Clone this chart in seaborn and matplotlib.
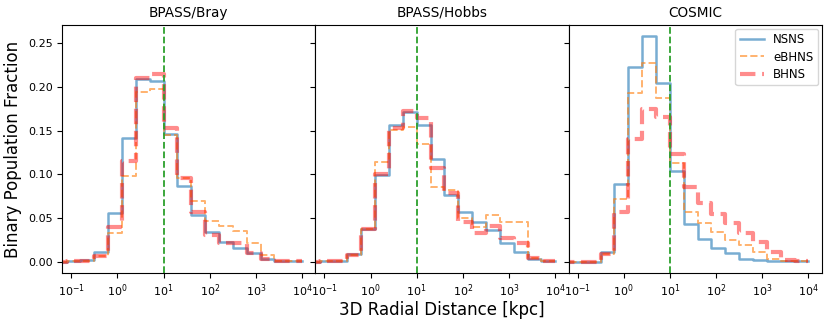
import numpy as np
import pandas as pd
import matplotlib
matplotlib.use("Agg")
import matplotlib.pyplot as plt
import seaborn as sns

# log10 bin edges (kpc), 0.3 dex bins
log_edges = [-1.4, -1.1, -0.8, -0.5, -0.2, 0.1, 0.4, 0.7, 1.0, 1.3,
             1.6, 1.9, 2.2, 2.5, 2.8, 3.1, 3.4, 3.7, 4.0]

models = ["BPASS/Bray", "BPASS/Hobbs", "COSMIC"]
populations = ["NSNS", "eBHNS", "BHNS"]

# fraction per bin
bray_nsns = [0.0, 0.0005, 0.0015, 0.0115, 0.056, 0.142, 0.209, 0.207, 0.146,
             0.087, 0.054, 0.034, 0.023, 0.0155, 0.010, 0.003, 0.001, 0.0005]
bray_ebhns = [0.0, 0.0005, 0.001, 0.0065, 0.0325, 0.098, 0.194, 0.198, 0.145,
              0.096, 0.070, 0.047, 0.041, 0.035, 0.021, 0.008, 0.001, 0.0005]
bray_bhns = [0.0, 0.0005, 0.001, 0.0065, 0.040, 0.115, 0.210, 0.215, 0.153,
             0.096, 0.057, 0.031, 0.022, 0.021, 0.010, 0.003, 0.001, 0.0005]

hobbs_nsns = [0.0, 0.0005, 0.001, 0.009, 0.038, 0.099, 0.156, 0.172, 0.157,
              0.118, 0.077, 0.0575, 0.046, 0.036, 0.021, 0.0115, 0.003, 0.001]
hobbs_ebhns = [0.0, 0.0005, 0.001, 0.008, 0.038, 0.114, 0.151, 0.154, 0.135,
               0.0855, 0.082, 0.050, 0.040, 0.053, 0.045, 0.045, 0.0045, 0.001]
hobbs_bhns = [0.0, 0.0005, 0.001, 0.008, 0.038, 0.100, 0.153, 0.173, 0.165,
              0.107, 0.079, 0.046, 0.033, 0.041, 0.027, 0.022, 0.0046, 0.001]

cosmic_nsns = [0.0, 0.0, 0.0, 0.0115, 0.089, 0.2235, 0.258, 0.205, 0.104,
               0.043, 0.026, 0.0155, 0.010, 0.003, 0.0015, 0.001, 0.001, 0.0005]
cosmic_ebhns = [0.0, 0.0, 0.0, 0.009, 0.072, 0.193, 0.228, 0.188, 0.113,
                0.0575, 0.044, 0.0345, 0.025, 0.019, 0.0107, 0.003, 0.001, 0.0005]
cosmic_bhns = [0.0, 0.0, 0.0, 0.009, 0.057, 0.141, 0.175, 0.166, 0.123,
               0.086, 0.067, 0.0545, 0.044, 0.033, 0.023, 0.0115, 0.002, 0.0005]

fractions = {
    "BPASS/Bray": [bray_nsns, bray_ebhns, bray_bhns],
    "BPASS/Hobbs": [hobbs_nsns, hobbs_ebhns, hobbs_bhns],
    "COSMIC": [cosmic_nsns, cosmic_ebhns, cosmic_bhns],
}

# one sample per bin at the (log) bin centre, weighted by its fraction
centers = 10 ** ((np.array(log_edges[:-1]) + np.array(log_edges[1:])) / 2)

styles = {
    "NSNS": dict(color="tab:blue", ls="-", lw=1.8, alpha=0.6),
    "eBHNS": dict(color="tab:orange", ls="--", lw=1.4, alpha=0.6),
    "BHNS": dict(color="red", ls="--", lw=3.0, alpha=0.45),
}

fig, axes = plt.subplots(1, 3, figsize=(8.3, 3.22), dpi=100, sharey=True)
fig.subplots_adjust(left=0.075, right=0.99, top=0.922, bottom=0.152, wspace=0)

for ax, model in zip(axes, models):
    for pop, vals in zip(populations, fractions[model]):
        df = pd.DataFrame({"r": centers, "frac": vals})
        sns.histplot(data=df, x="r", weights="frac", bins=list(log_edges), log_scale=True,
                     element="step", fill=False, label=pop, ax=ax, **styles[pop])
    ax.axvline(10, color="tab:green", ls="--", lw=1.3)
    ax.set_title(model, fontsize=9.8)
    ax.set_xlim(10 ** -1.195, 10 ** 4.288)
    ax.set_xticks([1e-1, 1e0, 1e1, 1e2, 1e3, 1e4])
    ax.xaxis.set_minor_locator(matplotlib.ticker.NullLocator())
    ax.set_xlabel("")
    ax.set_ylabel("")
    ax.tick_params(labelsize=8)

axes[0].set_ylim(-0.0129, 0.2709)
axes[0].set_yticks([0.0, 0.05, 0.10, 0.15, 0.20, 0.25])
axes[0].set_ylabel("Binary Population Fraction", fontsize=12)
axes[2].legend(loc="upper right", fontsize=8.5, labelspacing=0.35, borderaxespad=0.3)
fig.text(0.532, 0.037, "3D Radial Distance [kpc]", fontsize=12, ha="center", va="center")

plt.savefig("out.png")
